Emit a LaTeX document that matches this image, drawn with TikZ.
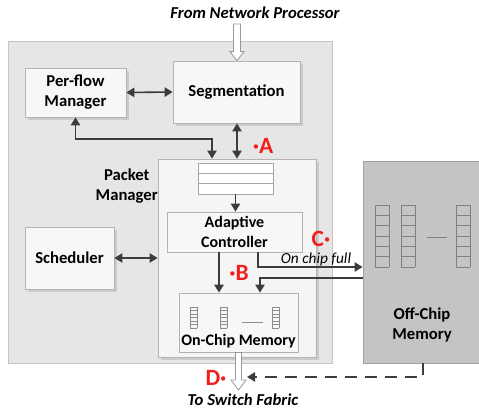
\documentclass[tikz,border=0pt]{standalone}
\usepackage{fontspec}
\setmainfont{Carlito}
\usetikzlibrary{arrows.meta,shadows,calc}
\definecolor{arrowc}{HTML}{3C3C3C}
\definecolor{outerbg}{HTML}{E6E6E6}
\definecolor{outerbd}{HTML}{C4C4C4}
\definecolor{boxbg}{HTML}{F7F7F7}
\definecolor{boxbd}{HTML}{B4B4B4}
\definecolor{offbg}{HTML}{C4C4C4}
\definecolor{offbd}{HTML}{A0A0A0}
\definecolor{redlab}{HTML}{F01E1E}
\begin{document}
\begin{tikzpicture}[x=0.75pt,y=-0.75pt,
  bx/.style 2 args={rectangle, draw=boxbd, fill=boxbg, line width=0.6pt,
     minimum width=#1*0.75pt, minimum height=#2*0.75pt, inner sep=0pt,
     align=center, font=\fontsize{12.5}{15}\selectfont\bfseries},
  shad/.style={drop shadow={shadow xshift=2pt, shadow yshift=-2pt, fill=black!30, opacity=0.5}},
  conn/.style={draw=arrowc, line width=1.2pt},
  tip/.style={-{Triangle[length=6pt,width=7pt]}},
  dtip/.style={{Triangle[length=6pt,width=7pt]}-{Triangle[length=6pt,width=7pt]}},
  hollow/.style={draw=black!40, fill=white, line width=0.6pt},
  redl/.style={text=redlab, font=\fontsize{17.5}{17.5}\selectfont\bfseries, inner sep=0pt},
  ladder/.style={draw=black!45, line width=0.5pt},
  extlab/.style={font=\fontsize{12.5}{14}\selectfont\bfseries\itshape, inner sep=0pt}
]
\useasboundingbox (0,0) rectangle (479,414);

% outer container
\node[rectangle, draw=outerbd, fill=outerbg, line width=0.6pt,
      minimum width=324*0.75pt, minimum height=322*0.75pt, inner sep=0pt]
      (outer) at (170,202) {};

% boxes
\node[bx={101}{49}, shad] (pf) at (75.5,92.5) {Per-flow\\Manager};
\node[bx={127}{62}, shad] (seg) at (236.5,92) {Segmentation};
\node[bx={89}{62}, shad] (sch) at (69.5,258) {Scheduler};
\node[bx={158}{198}, shad, fill=white!96!black] (pm) at (237,258) {};
\node[anchor=east, align=center, inner sep=0pt, font=\fontsize{12.5}{15.5}\selectfont\bfseries] (pmlab) at (158,186) {Packet\\Manager};

% queue in packet manager
\node[rectangle, draw=black!35, fill=white, line width=0.5pt,
      minimum width=75*0.75pt, minimum height=31*0.75pt, inner sep=0pt] (q) at (235.5,178.5) {};
\draw[draw=black!35, line width=0.5pt] ($(q.north west)+(0,11)$) -- ($(q.north east)+(0,11)$);
\draw[draw=black!35, line width=0.5pt] ($(q.north west)+(0,21)$) -- ($(q.north east)+(0,21)$);

\node[bx={135}{40}, fill=white!97!black, draw=black!30, font=\fontsize{12}{14.5}\selectfont\bfseries] (ac) at (234.5,232) {Adaptive\\Controller};
\node[bx={119}{59}, fill=white!97!black, draw=black!30] (ocm) at (238.5,322.5) {};
\node[anchor=south, inner sep=0pt, font=\fontsize{12}{14}\selectfont\bfseries] (ocmlab) at ($(ocm.south)+(0,-4)$) {On-Chip Memory};

% ladders in on-chip memory
\foreach \xl in {190,220,272}{
  \draw[ladder] (\xl,307) -- (\xl,328) (\xl+7,307) -- (\xl+7,328);
  \foreach \k in {0,...,6}{ \draw[ladder] (\xl,307+\k*3.5) -- (\xl+7,307+\k*3.5); }
}
\draw[ladder] (242,322) -- (263,322);

% off-chip memory
\node[rectangle, draw=offbd, fill=offbg, line width=0.6pt,
      minimum width=130*0.75pt, minimum height=202*0.75pt, inner sep=0pt] (off) at (428,262) {};
\node[align=center, inner sep=0pt, font=\fontsize{12.5}{15}\selectfont\bfseries] (offlab) at (422,325) {Off-Chip\\Memory};
\foreach \xl in {375,401,456}{
  \draw[ladder, draw=black!50] (\xl,205) -- (\xl,267) (\xl+14,205) -- (\xl+14,267);
  \foreach \k in {0,...,6}{ \draw[ladder, draw=black!50] (\xl,205+\k*10.33) -- (\xl+14,205+\k*10.33); }
}
\draw[ladder, draw=black!50] (427,237) -- (447,237);

% external labels
\node[extlab] (from) at (255,13) {From Network Processor};
\node[extlab] (to) at (243,400) {To Switch Fabric};

% hollow input arrow
\coordinate (inTop) at (237,24);
\coordinate (inTip) at (seg.north -| inTop);
\path[hollow] ($(inTop)+(-3.5,0)$) -- ($(inTip)+(-3.5,-9)$) -- ($(inTip)+(-7,-9)$) -- (inTip)
   -- ($(inTip)+(7,-9)$) -- ($(inTip)+(3.5,-9)$) -- ($(inTop)+(3.5,0)$) -- cycle;

% hollow output arrow
\coordinate (outTop) at (ocm.south -| 238.5,0);
\coordinate (outTip) at (238.5,390);
\path[hollow] ($(outTop)+(-3,0)$) -- ($(outTip)+(-3,-10)$) -- ($(outTip)+(-7.5,-10)$) -- (outTip)
   -- ($(outTip)+(7.5,-10)$) -- ($(outTip)+(3,-10)$) -- ($(outTop)+(3,0)$) -- cycle;

% connectors
\draw[conn, dtip] (pf.east) -- (seg.west);
\draw[conn, dtip] (pf.south) |- (212,139) -- (212,139 |- pm.north);
\draw[conn, dtip] (seg.south -| 237,0) -- (pm.north -| 237,0);
\draw[conn, dtip] (sch.east) -- (sch.east -| pm.west);
\draw[conn, tip] (q.south) -- (ac.north -| q.south);
\draw[conn, tip, line width=1.6pt] (ac.south -| 219,0) -- (ocm.north -| 219,0);
\draw[conn, tip] (off.west |- 0,278) -| (260,0 |- ocm.north);
\draw[conn, tip] (ac.south -| 258,0) |- (off.west |- 0,267);
\draw[conn, tip, dashed, dash pattern=on 9pt off 6pt] (off.south -| 423,0) |- (247,377);

% connector labels
\node[font=\fontsize{11.5}{13}\selectfont\itshape, inner sep=0pt] (ocf) at (316,259.5) {On chip full};
\node[redl] (la) at (263,146) {·A};
\node[redl] (lb) at (239,273) {·B};
\node[redl] (lc) at (321,238.5) {C·};
\node[redl] (ld) at (216,378) {D·};
\end{tikzpicture}
\end{document}
